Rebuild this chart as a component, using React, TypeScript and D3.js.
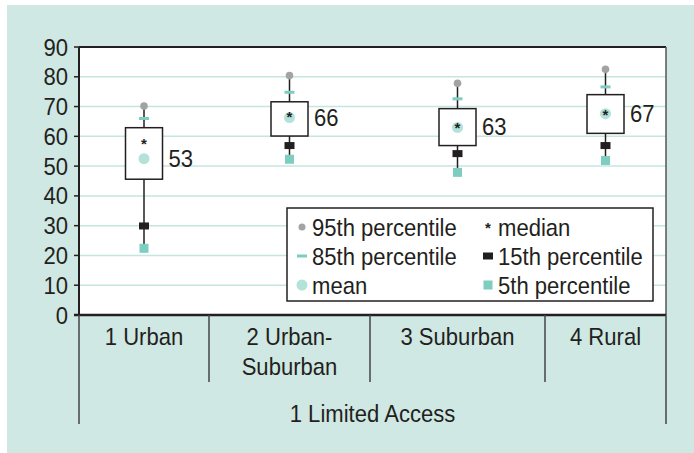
import React from "react";
import * as d3 from "d3";

// values
const categories = ["1 Urban", "2 Urban-\nSuburban", "3 Suburban", "4 Rural"];
const groupLabel = "1 Limited Access";
const p95 = [70.2, 80.4, 77.8, 82.5];
const p85 = [66, 74.8, 72.6, 76.6];
const p75 = [62.9, 71.6, 69.3, 74.0];
const p25 = [45.6, 60.1, 56.9, 61.0];
const medians = [57.6, 66.8, 63.0, 67.6];
const means = [52.5, 66.3, 63.0, 67.6];
const p15 = [29.9, 56.9, 54.2, 56.9];
const p5 = [22.4, 52.3, 47.9, 51.9];
const meanLabels = ["53", "66", "63", "67"];
const yTicks = [0, 10, 20, 30, 40, 50, 60, 70, 80, 90];

const W = 694;
const H = 453;
const FONT = "'Liberation Sans', Arial, sans-serif";
const BG = "#cfe8e3";
const GRID = "#c4e6df";
const TEAL = "#7fcdc1";
const TEAL_LIGHT = "#b3e2da";
const GRAY = "#a3a3a3";
const DARK = "#231f20";

const left = 79, right = 666, top = 47, bottom = 315;
// band widths follow the label widths, like the original
const bandWeights = [130, 161, 175, 121];

// condensed text (no narrow font installed, so squeeze horizontally)
function T(props: { x: number; y: number; anchor?: string; size?: number; children: React.ReactNode }) {
  const { x, y, anchor = "start", size = 24, children } = props;
  return (
    <text transform={`translate(${x},${y}) scale(0.92,1)`} textAnchor={anchor} fontSize={size} fill={DARK}>
      {children}
    </text>
  );
}

export default function App() {
  const y = d3.scaleLinear().domain([0, 90]).range([bottom, top]);
  const total = d3.sum(bandWeights);
  const edgeScale = d3.scaleLinear().domain([0, total]).range([left, right]);
  const edges = [0, ...d3.cumsum(bandWeights)].map((v) => edgeScale(v));
  const cx = categories.map((_, i) => (edges[i] + edges[i + 1]) / 2);
  const boxW = 37;

  const legendItems = [
    { label: "95th percentile", kind: "p95", col: 0, row: 0 },
    { label: "85th percentile", kind: "p85", col: 0, row: 1 },
    { label: "mean", kind: "mean", col: 0, row: 2 },
    { label: "median", kind: "median", col: 1, row: 0 },
    { label: "15th percentile", kind: "p15", col: 1, row: 1 },
    { label: "5th percentile", kind: "p5", col: 1, row: 2 },
  ];

  function marker(kind: string, x: number, yy: number, legend = false) {
    switch (kind) {
      case "p95":
        return <circle cx={x} cy={yy} r={legend ? 3.5 : 3.8} fill={GRAY} />;
      case "p85":
        return <rect x={x - 5} y={yy - 1.5} width={10} height={3} fill={TEAL} />;
      case "mean":
        return <circle cx={x} cy={yy} r={5.5} fill={TEAL_LIGHT} />;
      case "median":
        return (
          <text x={x} y={yy + 6} textAnchor="middle" fontSize={15} fontWeight="bold" fill={DARK}>
            *
          </text>
        );
      case "p15":
        return <rect x={x - 5} y={yy - 3.5} width={10} height={7} fill={DARK} />;
      case "p5":
        return <rect x={x - 4.5} y={yy - 4.5} width={9} height={9} fill={TEAL} />;
    }
    return null;
  }

  return (
    <svg width={W} height={H} style={{ position: "absolute", left: 0, top: 0, display: "block" }} fontFamily={FONT}>
      <rect x={0} y={0} width={W} height={H} fill="#ffffff" />
      <rect x={7} y={5} width={W - 7} height={H - 5} fill={BG} />
      <rect x={left} y={top} width={right - left} height={bottom - top} fill="#ffffff" />

      {/* grid */}
      {yTicks.filter((t) => t > 0 && t < 90).map((t) => (
        <line key={t} x1={left} x2={right} y1={y(t)} y2={y(t)} stroke={GRID} strokeWidth={1.5} />
      ))}

      {/* y axis ticks + labels */}
      {yTicks.map((t) => (
        <g key={"t" + t}>
          <line x1={left - 5} x2={left} y1={y(t)} y2={y(t)} stroke={DARK} strokeWidth={1.5} />
          <T x={68} y={y(t) + 8.5} anchor="end">
            {t}
          </T>
        </g>
      ))}

      {/* frame */}
      <line x1={left} x2={right} y1={top} y2={top} stroke={DARK} strokeWidth={2} />
      <line x1={right} x2={right} y1={top} y2={bottom} stroke="#555" strokeWidth={1.5} />
      <line x1={left} x2={left} y1={top} y2={bottom} stroke={DARK} strokeWidth={2} />

      {/* boxes */}
      {categories.map((c, i) => (
        <g key={c}>
          <line x1={cx[i]} x2={cx[i]} y1={y(p5[i])} y2={y(p95[i])} stroke={DARK} strokeWidth={1.5} />
          <rect x={cx[i] - boxW / 2} y={y(p75[i])} width={boxW} height={y(p25[i]) - y(p75[i])} fill="#ffffff" stroke={DARK} strokeWidth={1.5} />
          {marker("p95", cx[i], y(p95[i]))}
          {marker("p85", cx[i], y(p85[i]))}
          {marker("p15", cx[i], y(p15[i]))}
          {marker("p5", cx[i], y(p5[i]))}
          {marker("mean", cx[i], y(means[i]))}
          {marker("median", cx[i], y(medians[i]))}
          <T x={cx[i] + boxW / 2 + 6} y={y(means[i]) + 8} size={24}>
            {meanLabels[i]}
          </T>
        </g>
      ))}

      {/* legend */}
      <rect x={287} y={208} width={366} height={93} fill="#ffffff" stroke={DARK} strokeWidth={1.5} />
      {legendItems.map((d) => {
        const lx = d.col === 0 ? 302 : 488;
        const ly = 227 + d.row * 29;
        return (
          <g key={d.label}>
            {marker(d.kind, lx, ly, true)}
            <T x={lx + 10} y={ly + 8.5}>
              {d.label}
            </T>
          </g>
        );
      })}

      {/* x axis */}
      <line x1={left - 5} x2={right} y1={bottom} y2={bottom} stroke={DARK} strokeWidth={2.5} />
      {edges.slice(1, -1).map((e, i) => (
        <line key={"s" + i} x1={e} x2={e} y1={bottom} y2={382} stroke="#444" strokeWidth={1.5} />
      ))}
      <line x1={left} x2={left} y1={bottom} y2={424} stroke="#444" strokeWidth={1.5} />
      <line x1={right} x2={right} y1={bottom} y2={424} stroke="#444" strokeWidth={1.5} />
      {categories.map((c, i) =>
        c.split("\n").map((ln, j) => (
          <T key={c + j} x={cx[i]} y={345 + j * 30} anchor="middle">
            {ln}
          </T>
        ))
      )}
      <T x={(left + right) / 2} y={421.5} anchor="middle">
        {groupLabel}
      </T>
    </svg>
  );
}
